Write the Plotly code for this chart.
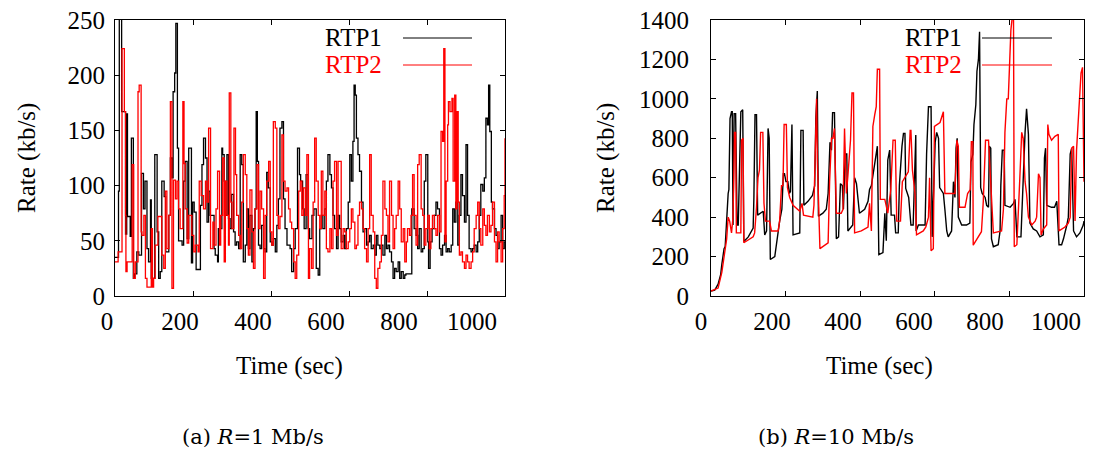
import plotly.graph_objects as go

# ---------------- data ----------------
x_ticks = [0, 200, 400, 600, 800, 1000]
ya_ticks = [0, 50, 100, 150, 200, 250]
yb_ticks = [0, 200, 400, 600, 800, 1000, 1200, 1400]

# (a) R = 1 Mb/s, RTP1 (black)
a_t1 = [0, 5, 9, 11, 17, 27, 30, 32, 39, 42, 47, 50, 56, 61, 68, 73, 77, 82, 86, 91, 93, 97, 102, 108, 112, 116, 120, 126,
        130, 138, 142, 146, 149, 153, 156, 160, 163, 172, 176, 180, 185, 189, 196, 199, 203, 208, 215, 219, 223, 227, 232,
        236, 240, 244,
        252, 254, 257, 263, 265, 270, 274, 276, 280, 282, 287, 291, 295, 299, 304, 308, 312, 317, 321, 325, 329, 334, 338,
        342, 346, 351, 355, 359, 362, 365, 368, 372, 376, 381, 385, 389, 393, 398, 402, 406, 411, 415, 419, 423, 428, 432,
        436, 441, 445, 449, 453, 458, 462, 468, 473, 476, 481, 485, 490,
        495, 499, 505, 510, 516, 521, 525, 529, 533, 538, 542, 546, 551, 555, 559, 563, 568, 572, 576, 580, 585, 589, 593,
        598, 602, 606, 610, 613, 616, 619, 623, 627, 632, 636, 640, 645, 649, 653, 657, 662, 666, 670, 674, 679, 683, 687,
        692, 696, 700, 704, 709, 713, 717, 721, 726, 730, 734, 739, 743,
        746, 761, 767, 772, 776, 780, 785, 789, 793, 797, 802, 804, 808, 813, 819, 823, 827, 832, 836, 840, 845, 849, 853,
        857, 862, 866, 870, 874, 879, 883, 887, 891, 896, 900, 904, 908, 913, 917, 921, 926, 930, 934, 938, 943, 947, 951,
        955, 958, 961, 965, 968, 973, 977, 981, 985, 990, 994, 998, 1000]
a_r1 = [35, 35, 95, 255, 167, 56, 165, 72, 54, 143, 16, 20, 40, 37, 111, 79, 104, 43, 31, 87, 16, 16, 128, 58, 16, 22, 104, 90,
        40, 73, 125, 107, 185, 202, 247, 134, 50, 46, 104, 122, 52, 134, 30, 85, 76, 24, 24, 82, 119, 143, 125,
        67, 95, 73,
        73, 43, 37, 31, 61, 61, 134, 128, 104, 73, 128, 70, 61, 92, 58, 46, 49, 43, 128, 119, 31, 46, 79,
        43, 73, 31, 61, 79, 167, 122, 46, 43, 64, 43, 40, 112, 98, 49, 46, 52, 40, 64, 88, 152, 158, 88,
        61, 46, 46, 43, 22, 43, 61, 134, 110, 104, 79, 61, 110,
        61, 52, 73, 79, 25, 19, 61, 73, 61, 79, 104, 128, 110, 98, 73, 61, 43, 73, 61, 49, 55, 43, 61,
        85, 128, 104, 140, 191, 182, 143, 128, 113, 85, 58, 61, 46, 49, 55, 43, 46, 37, 55, 46, 43, 46, 37,
        55, 43, 46, 40, 31, 16, 25, 22, 31, 16, 22, 16, 19,
        20, 79, 61, 55, 43, 61, 40, 43, 104, 128, 49, 25, 49, 61, 73, 85, 79, 43, 37, 46, 55, 40, 43,
        40, 46, 79, 67, 85, 46, 73, 110, 91, 67, 137, 73, 43, 40, 43, 46, 40, 49, 73, 101, 95, 107, 161,
        155, 191, 149, 85, 79, 61, 55, 43, 49, 73, 43, 49, 49]

# (a) R = 1 Mb/s, RTP2 (red)
a_t2 = [0, 5, 8, 14, 18, 24, 27, 28, 31, 39, 44, 48, 52, 59, 62, 67, 69, 74, 78, 82, 93, 96, 99, 103, 110, 116, 120, 125,
        129, 133, 138, 142, 146, 150, 155, 159, 163, 167, 174, 177, 180, 185, 189, 197, 202, 206, 213, 216, 221, 227, 232,
        236, 240,
        245, 251, 254, 259, 263, 268, 271, 276, 280, 283, 287, 291, 293, 297, 300, 305, 309, 312, 317, 321, 325, 329, 334,
        338, 342, 346, 351, 355, 359, 364, 368, 372, 376, 381, 385, 389, 394, 398, 402, 406, 411, 415, 419, 423, 428, 432,
        436, 441, 445, 449, 453, 458, 462, 466, 471, 475, 479, 483, 488, 492, 496,
        499, 504, 508, 512, 516, 521, 525, 529, 533, 538, 542, 546, 551, 555, 559, 563, 568, 572, 580, 585, 589, 593, 598,
        602, 606, 610, 615, 619, 623, 627, 632, 636, 640, 645, 649, 653, 657, 662, 666, 670, 674, 679, 683, 687, 692, 696,
        700, 704, 709, 713, 717, 721, 726, 730, 734, 739, 743,
        747, 750, 755, 759, 763, 767, 772, 776, 780, 785, 789, 793, 797, 802, 806, 810, 814, 819, 823, 827, 832, 836, 840,
        843, 846, 849, 853, 855, 859, 864, 867, 871, 874, 877, 880, 883, 887, 891, 896, 900, 904, 908, 913, 917, 921, 926,
        930, 934, 938, 943, 947, 951, 955, 960, 964, 968, 973, 977, 981, 985, 990, 994, 998, 1000]
a_r2 = [31, 31, 40, 40, 224, 167, 73, 22, 31, 31, 119, 16, 31, 185, 191, 58, 55, 73, 16, 8, 61, 8, 16, 46, 72, 72, 37, 25,
        95, 43, 73, 176, 7, 105, 88, 104, 79, 61, 176, 120, 79, 48, 73, 55, 40, 46, 40, 104, 91, 79, 104,
        85, 152,
        43, 67, 46, 79, 113, 46, 73, 125, 31, 104, 73, 46, 184, 85, 61, 152, 110, 73, 55, 43, 85, 128, 110,
        61, 37, 96, 58, 25, 79, 119, 61, 95, 79, 16, 73, 104, 122, 58, 46, 158, 152, 73, 61, 72, 146, 104,
        95, 98, 79, 67, 61, 31, 16, 37, 95, 104, 73, 98, 73, 128, 16,
        43, 25, 85, 143, 104, 73, 61, 113, 73, 95, 43, 40, 61, 43, 104, 122, 55, 122, 43, 61, 58, 43, 49,
        61, 79, 67, 43, 46, 73, 85, 79, 61, 43, 31, 61, 128, 73, 58, 16, 7, 25, 31, 55, 104, 79, 73,
        49, 104, 73, 43, 61, 73, 104, 79, 49, 61, 31,
        49, 61, 55, 73, 110, 73, 46, 119, 128, 79, 73, 46, 61, 73, 43, 61, 73, 61, 55, 73, 58, 149, 140,
        224, 49, 104, 155, 176, 167, 179, 104, 182, 79, 167, 85, 37, 40, 31, 25, 37, 31, 25, 31, 40, 61, 73,
        85, 61, 46, 79, 64, 55, 73, 58, 64, 85, 49, 31, 58, 49, 31, 61, 91, 143]

# (b) R = 10 Mb/s, RTP1 (black)
b_t1 = [0, 10, 19, 26, 29, 35, 38, 42, 46, 48, 51, 55, 57, 59, 62, 66, 70, 73, 76, 80, 85, 88, 100, 113, 115, 118, 122, 125,
        140, 144, 149, 153, 156, 159, 171, 180, 184, 190, 194, 197, 201, 206, 210, 213, 217, 220, 238, 241, 247, 249, 260,
        272, 278, 281, 285, 288, 300, 309, 314, 319, 323, 326, 331, 336, 342, 347, 352, 355, 360, 364, 367, 380, 385, 390,
        398, 412, 421, 425, 430, 446, 450, 461, 466, 470, 474, 479, 483, 492,
        495, 502, 505, 512, 516, 520, 522, 530, 536, 542, 547, 549, 550, 556, 574, 578, 583, 590, 593, 601, 605, 610, 613,
        623, 627, 632, 636, 645, 650, 654, 657, 660, 663, 672, 685, 694, 697, 702, 705, 710, 713, 717, 720, 723, 727, 735,
        739, 744, 746, 750, 752, 757, 770, 775, 777, 781, 786, 788, 802, 811, 815, 820, 831, 836, 842, 846, 851, 855, 864,
        873, 882, 891, 894, 897, 900, 913, 921, 927, 933, 940, 945, 954, 958, 963, 967, 972, 980, 989, 998, 1000]
b_r1 = [25, 30, 60, 110, 160, 240, 250, 430, 520, 540, 900, 935, 935, 360, 925, 925, 360, 360, 650, 935, 945, 276, 300, 345,
        500, 920, 920, 410, 430, 310, 330, 850, 800, 185, 200, 330, 380, 440, 620, 620, 580, 580, 520, 530, 870, 310, 320,
        840, 840, 460, 480, 510, 560, 900, 1040, 405, 420, 440, 520, 780, 740, 930, 930, 290, 300, 570, 560, 440, 720, 720,
        330, 360, 600, 570, 420, 440, 480, 540, 560, 760, 210, 220, 420, 280, 690, 740, 410, 410,
        320, 320, 560, 760, 825, 825, 546, 500, 360, 360, 817, 817, 330, 360, 360, 720, 960, 960, 300, 780, 830, 800, 550,
        520, 440, 330, 300, 330, 580, 500, 750, 800, 400, 360, 360, 370, 680, 720, 870, 970, 1140, 1200, 1340, 550, 520,
        500, 460, 450, 760, 750, 290, 250, 260, 330, 560, 740, 740, 460, 450, 470, 490, 300, 300, 590, 830, 950, 820, 370,
        340, 330, 300, 310, 700, 750, 460, 450, 450, 480, 260, 260, 290, 360, 400, 720, 750, 330, 300, 320, 360, 380]

# (b) R = 10 Mb/s, RTP2 (red)
b_t2 = [0, 19, 29, 35, 38, 42, 46, 50, 55, 59, 61, 63, 66, 68, 80, 82, 86, 88, 113, 117, 122, 126, 130, 133, 139, 142, 146,
        157, 162, 180, 184, 189, 193, 196, 202, 205, 211, 220, 238, 244, 248, 273, 276, 280, 283, 285, 292, 314, 318, 323,
        327, 331, 336, 349, 354, 358, 363, 367, 374, 378, 382, 385, 403, 421, 425, 430, 434, 439, 443, 446, 452, 454, 466,
        474, 482, 488, 494, 498, 508, 513, 520, 529, 534, 536, 540, 547, 551, 569, 576, 583, 586, 590, 596, 599, 614, 623,
        627, 654, 659, 663, 666, 681, 688, 695, 698, 702, 703, 725, 730, 736, 744, 752, 757, 779, 784, 788, 793, 797, 800,
        804, 808, 811, 813, 820, 828, 833, 837, 842, 846, 851, 860, 869, 873, 878, 882, 885, 891, 900, 903, 906, 913, 922,
        931, 933, 949, 958, 963, 967, 972, 976, 980, 985, 988, 992, 996, 1000]
b_r2 = [25, 40, 120, 200, 240, 290, 400, 380, 320, 400, 600, 830, 830, 320, 320, 790, 800, 270, 300, 320, 450, 600, 640,
        830, 830, 470, 380, 380, 330, 330, 380, 560, 560, 870, 870, 550, 500, 460, 430, 470, 410, 400, 460, 860, 1000, 700,
        240, 270, 580, 800, 800, 850, 420, 420, 440, 850, 520, 610, 790, 1030, 1030, 320, 330, 350, 470, 330, 860, 920, 960,
        1150, 1150, 490, 490, 420, 540, 790, 790, 380, 380, 580, 600, 630, 840, 840, 640, 520, 310, 330, 350, 400, 600, 230,
        240, 860, 880, 935, 520, 520, 790, 760, 450, 450, 520, 540, 783, 783, 258, 326, 480, 790, 790, 460, 320, 330, 440,
        830, 1000, 1000, 1200, 1350, 1420, 1420, 250, 260, 600, 830, 800, 580, 520, 400, 360, 380, 400, 620, 600, 310, 340,
        360, 870, 820, 790, 810, 820, 330, 350, 370, 400, 750, 760, 380, 740, 930, 1000, 1130, 1160, 580]

# ---------------- figure ----------------
W, H = 1112, 450
FONT = "Liberation Serif"
CAPFONT = "DejaVu Serif"

fig = go.Figure()
fig.add_trace(go.Scatter(x=a_t1, y=a_r1, mode="lines", name="RTP1",
                         line=dict(color="black", width=1.3, shape="hv"), xaxis="x", yaxis="y"))
fig.add_trace(go.Scatter(x=a_t2, y=a_r2, mode="lines", name="RTP2",
                         line=dict(color="#ff0000", width=1.3, shape="hv"), xaxis="x", yaxis="y"))
fig.add_trace(go.Scatter(x=b_t1, y=b_r1, mode="lines", name="RTP1",
                         line=dict(color="black", width=1.4), xaxis="x2", yaxis="y2"))
fig.add_trace(go.Scatter(x=b_t2, y=b_r2, mode="lines", name="RTP2",
                         line=dict(color="#ff0000", width=1.4), xaxis="x2", yaxis="y2"))
# carrier traces for the label-only x axes (tick labels sit slightly off the tick marks in the original)
fig.add_trace(go.Scatter(x=[None], y=[None], xaxis="x3", yaxis="y3", hoverinfo="skip"))
fig.add_trace(go.Scatter(x=[None], y=[None], xaxis="x4", yaxis="y4", hoverinfo="skip"))

tickfont = dict(family=FONT, size=25, color="black")
frame = dict(showline=True, linecolor="black", linewidth=1.2, mirror="allticks", ticks="inside",
             ticklen=5, tickcolor="black", showgrid=False, zeroline=False, automargin=False)
hidden = dict(visible=False, automargin=False, showgrid=False, zeroline=False)

ydom = [1 - 296 / H, 1 - 20 / H]
fig.update_layout(
    width=W, height=H, margin=dict(l=0, r=0, t=0, b=0, pad=0, autoexpand=False),
    paper_bgcolor="white", plot_bgcolor="rgba(0,0,0,0)", showlegend=False,
    xaxis=dict(domain=[115 / W, 505 / W], range=[0, 1000], anchor="y", tickvals=x_ticks,
               showticklabels=False, **frame),
    yaxis=dict(domain=ydom, range=[0, 250], anchor="x", tickvals=ya_ticks, tickfont=tickfont,
               ticklabelstandoff=4, **frame),
    xaxis2=dict(domain=[711 / W, 1084 / W], range=[0, 1000], anchor="y2", tickvals=x_ticks,
                showticklabels=False, **frame),
    yaxis2=dict(domain=ydom, range=[0, 1400], anchor="x2", tickvals=yb_ticks, tickfont=tickfont,
                ticklabelstandoff=16, **frame),
    xaxis3=dict(domain=[107 / W, 472 / W], range=[0, 1000], anchor="y3",
                tickvals=x_ticks, showline=False, ticks="", showgrid=False, zeroline=False,
                automargin=False, tickfont=tickfont, ticklabelstandoff=8),
    yaxis3=dict(domain=ydom, range=[0, 1], anchor="x3", **hidden),
    xaxis4=dict(domain=[701 / W, 1056 / W], range=[0, 1000], anchor="y4",
                tickvals=x_ticks, showline=False, ticks="", showgrid=False, zeroline=False,
                automargin=False, tickfont=tickfont, ticklabelstandoff=8),
    yaxis4=dict(domain=ydom, range=[0, 1], anchor="x4", **hidden),
)

ann = []
def text(x, y, s, size=25, family=FONT, color="black", angle=0, xanchor="center"):
    ann.append(dict(x=x / W, y=1 - y / H, xref="paper", yref="paper", text=s, showarrow=False,
                    textangle=angle, xanchor=xanchor, yanchor="middle",
                    font=dict(family=family, size=size, color=color)))

text(27, 158, "Rate (kb/s)", angle=-90)
text(606, 158, "Rate (kb/s)", angle=-90)
text(289, 366, "Time (sec)")
text(879, 366, "Time (sec)")
text(253, 437, "(a) <i>R</i>=1 Mb/s", size=21, family=CAPFONT)
text(836, 437, "(b) <i>R</i>=10 Mb/s", size=21, family=CAPFONT)
text(384, 38, "RTP1", xanchor="right")
text(384, 65, "RTP2", color="#ff0000", xanchor="right")
text(964, 38, "RTP1", xanchor="right")
text(964, 65, "RTP2", color="#ff0000", xanchor="right")
fig.update_layout(annotations=ann)

shapes = []
for x0, x1 in [(403, 472), (982, 1052)]:
    shapes.append(dict(type="line", xref="paper", yref="paper", x0=x0 / W, x1=x1 / W,
                       y0=1 - 38 / H, y1=1 - 38 / H, line=dict(color="black", width=1)))
    shapes.append(dict(type="line", xref="paper", yref="paper", x0=x0 / W, x1=x1 / W,
                       y0=1 - 65 / H, y1=1 - 65 / H, line=dict(color="#ff0000", width=1)))
fig.update_layout(shapes=shapes)

fig.write_html("out.html")
